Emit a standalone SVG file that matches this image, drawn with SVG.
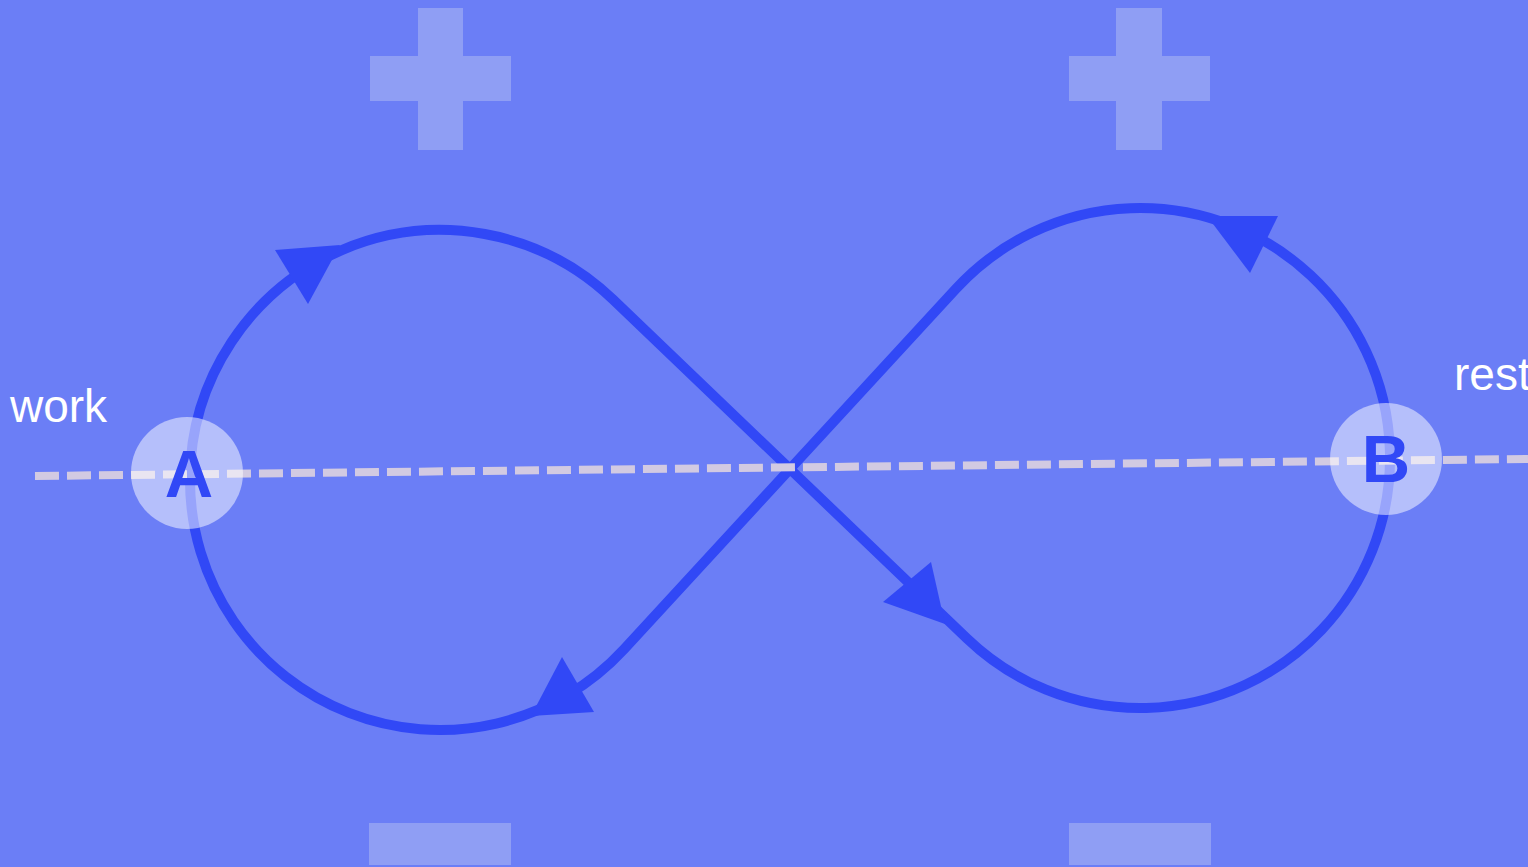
<svg xmlns="http://www.w3.org/2000/svg" width="1528" height="867" viewBox="0 0 1528 867">
<style>
.sign{fill:#8f9ef4}
.loop{fill:none;stroke:#3148f6;stroke-width:10}
.head{fill:#3148f6}
.dash{stroke:#d2cae2;stroke-width:8;stroke-dasharray:24 8;fill:none}
.node{fill:#ffffff;fill-opacity:0.5}
.letter{font-family:"Liberation Sans",Arial,sans-serif;font-weight:bold;font-size:67px;fill:#3148f6;text-anchor:middle}
.label{font-family:"Liberation Sans",Arial,sans-serif;font-size:46px;fill:#ffffff}
</style>
<rect width="1528" height="867" fill="#6b7ef6"/>
<g id="plus-left"><rect class="sign" x="418" y="8" width="45" height="142"/><rect class="sign" x="370" y="56" width="141" height="45"/></g>
<g id="plus-right"><rect class="sign" x="1116" y="8" width="46" height="142"/><rect class="sign" x="1069" y="56" width="141" height="45"/></g>
<g id="minus-left"><rect class="sign" x="369" y="823" width="142" height="42"/></g>
<g id="minus-right"><rect class="sign" x="1069" y="823" width="142" height="42"/></g>
<g id="connectors">
<path class="loop" d="M190,480 A250,250 0 0 1 612.9,299.4 L967.1,638.6 A250,250 0 1 0 956.1,288.7 L623.9,649.3 A250,250 0 0 1 190,480 Z"/>
<polygon class="head" points="275,250 340,245 308,304"/>
<polygon class="head" points="883,602 931,562 945,624"/>
<polygon class="head" points="1278,216 1250,273 1207,216"/>
<polygon class="head" points="562,657 594,712 531,716"/>
<line class="dash" x1="35" y1="476" x2="1528" y2="459"/>
</g>
<g id="node-A"><circle class="node" cx="187" cy="473" r="56"/><text class="letter" x="189" y="497">A</text></g>
<g id="node-B"><circle class="node" cx="1386" cy="459" r="56"/><text class="letter" x="1386" y="482">B</text></g>
<g id="label-work"><text class="label" x="10" y="422">work</text></g>
<g id="label-rest"><text class="label" x="1454" y="390">rest</text></g>
</svg>
